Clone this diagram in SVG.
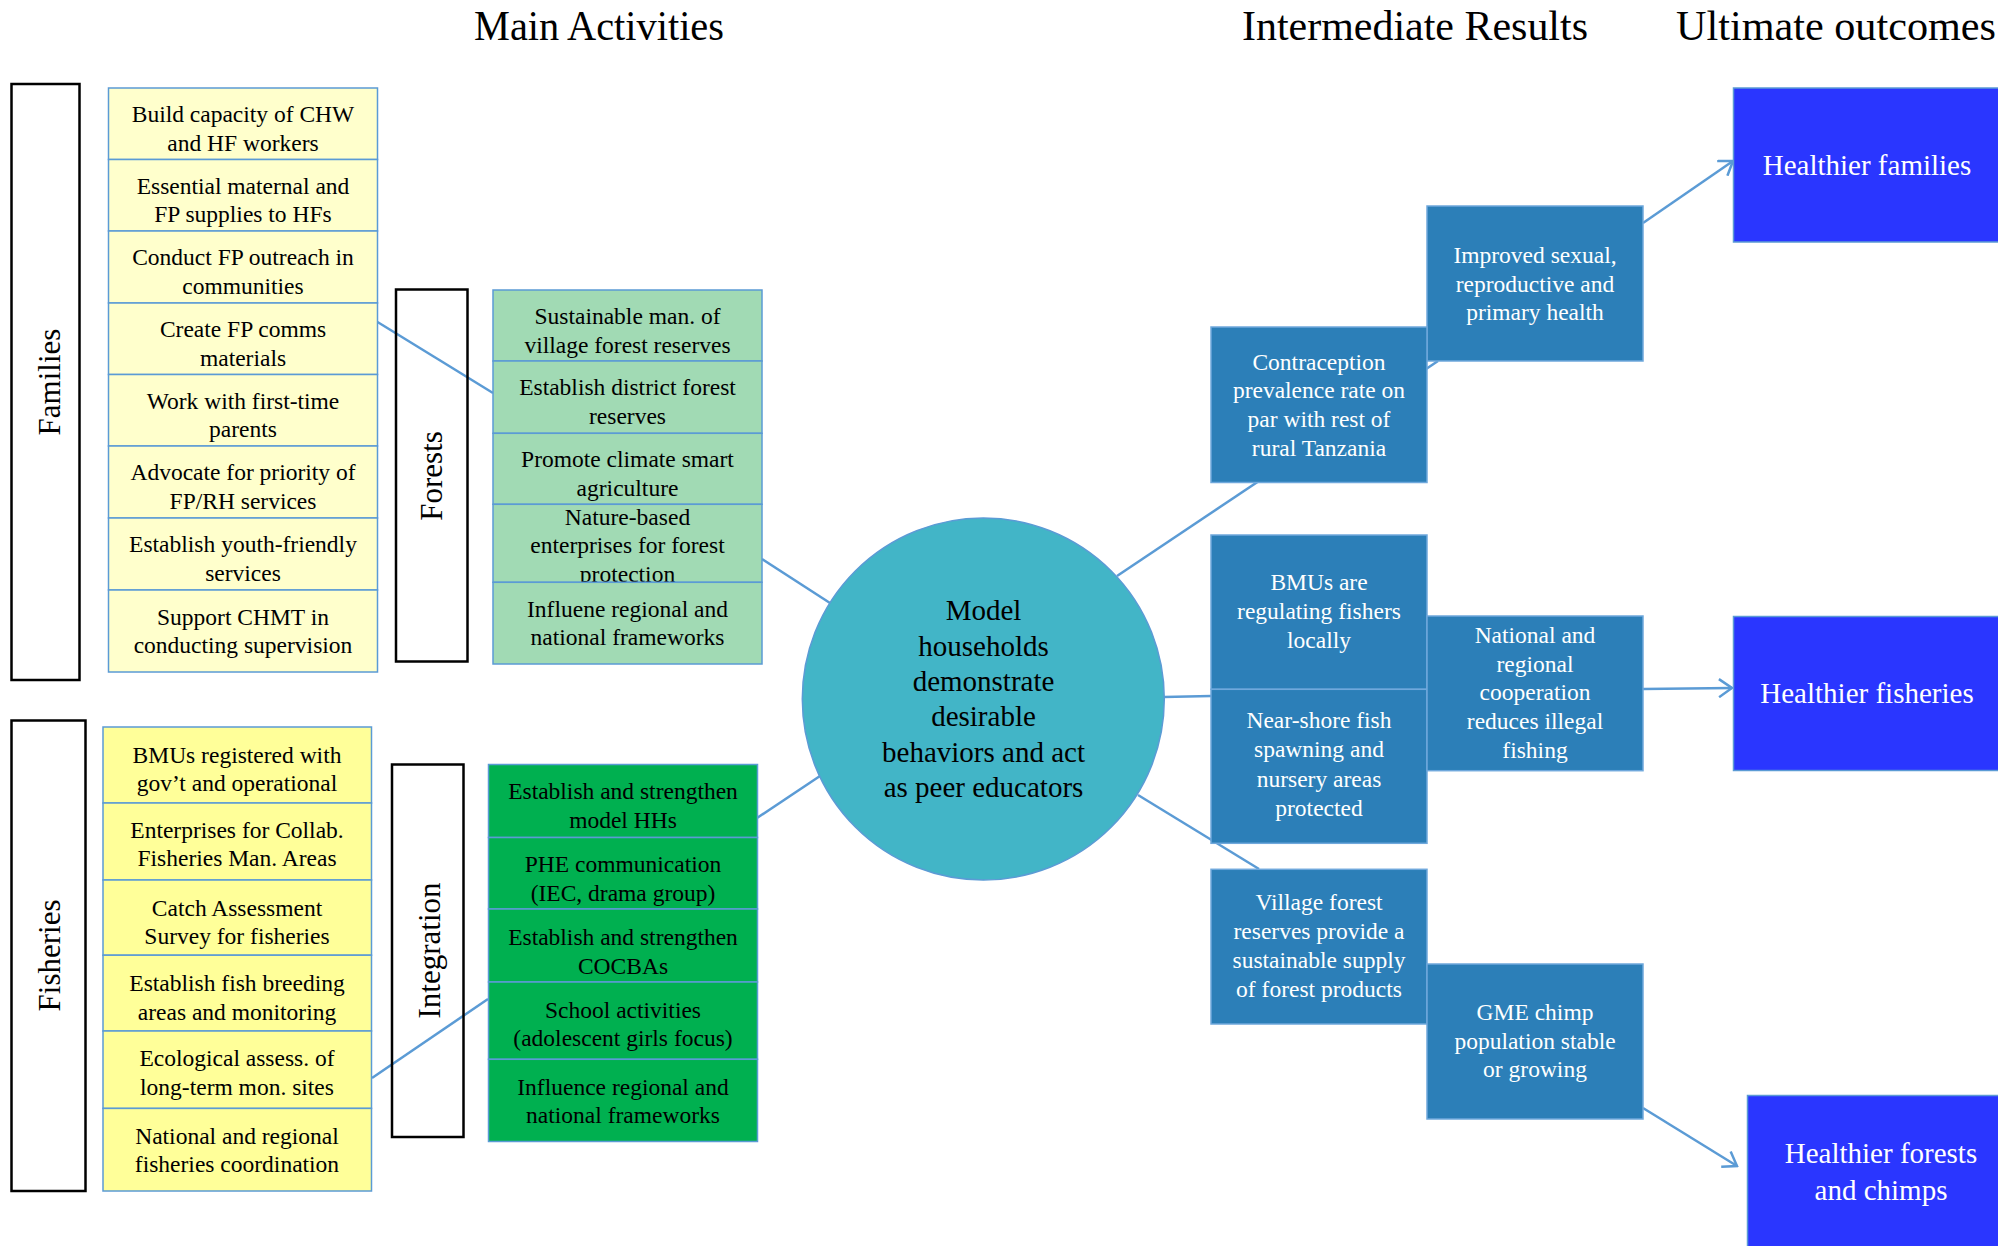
<svg xmlns="http://www.w3.org/2000/svg" width="1998" height="1246" viewBox="0 0 1998 1246" font-family="'Liberation Serif', 'DejaVu Serif', serif">
<style>
text{font-family:'Liberation Serif','DejaVu Serif',serif;text-anchor:middle}
.hd{font-size:42px;fill:#000;text-anchor:start}
.t{font-size:23.5px;fill:#000}
.w{font-size:23.5px;fill:#fff}
.big{font-size:29px;fill:#fff}
.ctr{font-size:29px;fill:#000}
.lbl{font-size:31px;fill:#000}
.lb{fill:none;stroke:#000;stroke-width:2.5}
.y1{fill:#FFFFCC;stroke:#5B9BD5;stroke-width:1.5}
.y2{fill:#FFFF99;stroke:#5B9BD5;stroke-width:1.5}
.g1{fill:#A1DAB4;stroke:#5B9BD5;stroke-width:1.5}
.g2{fill:#00B050;stroke:#5B9BD5;stroke-width:1.5}
.b1{fill:#2C7FB8;stroke:#6FA8DC;stroke-width:1.5}
.b2{fill:#2A36FF;stroke:#5B9BD5;stroke-width:1.5}
.c{fill:none;stroke:#5B9BD5;stroke-width:2.5}
</style>
<defs>
<marker id="arr" viewBox="0 0 16 20" refX="14" refY="10" markerWidth="16" markerHeight="20" markerUnits="userSpaceOnUse" orient="auto">
<path d="M1,1 L14,10 L1,19" fill="none" stroke="#5B9BD5" stroke-width="2.5"/>
</marker>
</defs>
<rect width="1998" height="1246" fill="#fff"/>

<g id="headings">
<text class="hd" x="474" y="40" textLength="250" lengthAdjust="spacingAndGlyphs">Main Activities</text>
<text class="hd" x="1242" y="40" textLength="346" lengthAdjust="spacingAndGlyphs">Intermediate Results</text>
<text class="hd" x="1676" y="40" textLength="320" lengthAdjust="spacingAndGlyphs">Ultimate outcomes</text>
</g>

<g id="connectors">
<line class="c" x1="377.5" y1="322" x2="493" y2="393"/>
<line class="c" x1="372" y1="1078" x2="488" y2="999"/>
<line class="c" x1="762" y1="559" x2="830" y2="603"/>
<line class="c" x1="757" y1="818" x2="820" y2="776"/>
<line class="c" x1="1117" y1="576" x2="1438" y2="361"/>
<line class="c" x1="1164" y1="697" x2="1211" y2="696"/>
<line class="c" x1="1138" y1="795" x2="1259" y2="869"/>
<line class="c" x1="1643" y1="223" x2="1733" y2="161" marker-end="url(#arr)"/>
<line class="c" x1="1643" y1="689" x2="1732" y2="688" marker-end="url(#arr)"/>
<line class="c" x1="1643" y1="1108" x2="1737" y2="1166" marker-end="url(#arr)"/>
</g>

<g id="families-label">
<rect class="lb" x="11.5" y="84" width="68" height="596"/>
<text class="lbl" transform="translate(60,382) rotate(-90)">Families</text>
</g>
<g id="families-activities">
<g id="fa1"><rect class="y1" x="108.5" y="88" width="269" height="71.5"/><text class="t" x="243" y="122">Build capacity of CHW</text><text class="t" x="243" y="150.7">and HF workers</text></g>
<g id="fa2"><rect class="y1" x="108.5" y="159.5" width="269" height="71.5"/><text class="t" x="243" y="193.5">Essential maternal and</text><text class="t" x="243" y="222">FP supplies to HFs</text></g>
<g id="fa3"><rect class="y1" x="108.5" y="231" width="269" height="72"/><text class="t" x="243" y="265">Conduct FP outreach in</text><text class="t" x="243" y="293.7">communities</text></g>
<g id="fa4"><rect class="y1" x="108.5" y="303" width="269" height="71.5"/><text class="t" x="243" y="337">Create FP comms</text><text class="t" x="243" y="365.5">materials</text></g>
<g id="fa5"><rect class="y1" x="108.5" y="374.5" width="269" height="71.5"/><text class="t" x="243" y="408.5">Work with first-time</text><text class="t" x="243" y="437">parents</text></g>
<g id="fa6"><rect class="y1" x="108.5" y="446" width="269" height="72"/><text class="t" x="243" y="480">Advocate for priority of</text><text class="t" x="243" y="509">FP/RH services</text></g>
<g id="fa7"><rect class="y1" x="108.5" y="518" width="269" height="72"/><text class="t" x="243" y="552">Establish youth-friendly</text><text class="t" x="243" y="580.7">services</text></g>
<g id="fa8"><rect class="y1" x="108.5" y="590" width="269" height="82"/><text class="t" x="243" y="625">Support CHMT in</text><text class="t" x="243" y="652.7">conducting supervision</text></g>
</g>

<g id="forests-label">
<rect class="lb" x="396" y="289.5" width="71.5" height="372"/>
<text class="lbl" transform="translate(442,476) rotate(-90)">Forests</text>
</g>
<g id="forests-activities">
<g id="fo1"><rect class="g1" x="493" y="290" width="269" height="71"/><text class="t" x="627.5" y="324">Sustainable man. of</text><text class="t" x="627.5" y="352.7">village forest reserves</text></g>
<g id="fo2"><rect class="g1" x="493" y="361" width="269" height="72.3"/><text class="t" x="627.5" y="395">Establish district forest</text><text class="t" x="627.5" y="423.5">reserves</text></g>
<g id="fo3"><rect class="g1" x="493" y="433.3" width="269" height="71"/><text class="t" x="627.5" y="467">Promote climate smart</text><text class="t" x="627.5" y="495.7">agriculture</text></g>
<g id="fo4"><rect class="g1" x="493" y="504.3" width="269" height="78"/><text class="t" x="627.5" y="525">Nature-based</text><text class="t" x="627.5" y="553.3">enterprises for forest</text><text class="t" x="627.5" y="581.7">protection</text></g>
<g id="fo5"><rect class="g1" x="493" y="582.3" width="269" height="81.7"/><text class="t" x="627.5" y="616.7">Influene regional and</text><text class="t" x="627.5" y="645">national frameworks</text></g>
</g>

<g id="fisheries-label">
<rect class="lb" x="11.5" y="720.5" width="74" height="470.5"/>
<text class="lbl" transform="translate(60,955.5) rotate(-90)">Fisheries</text>
</g>
<g id="fisheries-activities">
<g id="fi1"><rect class="y2" x="103" y="727" width="268.5" height="76"/><text class="t" x="237" y="762.7">BMUs registered with</text><text class="t" x="237" y="791.2">gov’t and operational</text></g>
<g id="fi2"><rect class="y2" x="103" y="803" width="268.5" height="77"/><text class="t" x="237" y="837.5">Enterprises for Collab.</text><text class="t" x="237" y="866.4">Fisheries Man. Areas</text></g>
<g id="fi3"><rect class="y2" x="103" y="880" width="268.5" height="75.2"/><text class="t" x="237" y="915.9">Catch Assessment</text><text class="t" x="237" y="944.4">Survey for fisheries</text></g>
<g id="fi4"><rect class="y2" x="103" y="955.2" width="268.5" height="75.8"/><text class="t" x="237" y="990.7">Establish fish breeding</text><text class="t" x="237" y="1019.6">areas and monitoring</text></g>
<g id="fi5"><rect class="y2" x="103" y="1031" width="268.5" height="77.4"/><text class="t" x="237" y="1066.3">Ecological assess. of</text><text class="t" x="237" y="1095.2">long-term mon. sites</text></g>
<g id="fi6"><rect class="y2" x="103" y="1108.4" width="268.5" height="82.6"/><text class="t" x="237" y="1144">National and regional</text><text class="t" x="237" y="1171.8">fisheries coordination</text></g>
</g>

<g id="integration-label">
<rect class="lb" x="392" y="764.5" width="71.5" height="372.5"/>
<text class="lbl" transform="translate(440,950.5) rotate(-90)">Integration</text>
</g>
<g id="integration-activities">
<g id="in1"><rect class="g2" x="488.5" y="764.5" width="269" height="73"/><text class="t" x="623" y="799.2">Establish and strengthen</text><text class="t" x="623" y="828">model HHs</text></g>
<g id="in2"><rect class="g2" x="488.5" y="837.5" width="269" height="71.5"/><text class="t" x="623" y="872">PHE communication</text><text class="t" x="623" y="900.5">(IEC, drama group)</text></g>
<g id="in3"><rect class="g2" x="488.5" y="909" width="269" height="73"/><text class="t" x="623" y="945">Establish and strengthen</text><text class="t" x="623" y="973.5">COCBAs</text></g>
<g id="in4"><rect class="g2" x="488.5" y="982" width="269" height="77.3"/><text class="t" x="623" y="1017.5">School activities</text><text class="t" x="623" y="1046.4">(adolescent girls focus)</text></g>
<g id="in5"><rect class="g2" x="488.5" y="1059.3" width="269" height="82.2"/><text class="t" x="623" y="1094.5">Influence regional and</text><text class="t" x="623" y="1123">national frameworks</text></g>
</g>

<g id="model-households">
<circle cx="983.3" cy="699" r="181" fill="#42B5C7" stroke="#5B9BD5" stroke-width="1.5"/>
<text class="ctr" x="983.5" y="620">Model</text>
<text class="ctr" x="983.5" y="655.7">households</text>
<text class="ctr" x="983.5" y="690.7">demonstrate</text>
<text class="ctr" x="983.5" y="725.7">desirable</text>
<text class="ctr" x="983.5" y="761.7">behaviors and act</text>
<text class="ctr" x="983.5" y="796.7">as peer educators</text>
</g>

<g id="ir-improved"><rect class="b1" x="1427" y="206" width="216" height="155"/><text class="w" x="1535" y="263.3">Improved sexual,</text><text class="w" x="1535" y="291.7">reproductive and</text><text class="w" x="1535" y="320">primary health</text></g>
<g id="ir-contraception"><rect class="b1" x="1211" y="327" width="216" height="155.5"/><text class="w" x="1319" y="370">Contraception</text><text class="w" x="1319" y="398.3">prevalence rate on</text><text class="w" x="1319" y="427.3">par with rest of</text><text class="w" x="1319" y="455.7">rural Tanzania</text></g>
<g id="ir-bmus"><rect class="b1" x="1211" y="535" width="216" height="154.3"/><text class="w" x="1319" y="590">BMUs are</text><text class="w" x="1319" y="619">regulating fishers</text><text class="w" x="1319" y="647.7">locally</text></g>
<g id="ir-nearshore"><rect class="b1" x="1211" y="689.3" width="216" height="154"/><text class="w" x="1319" y="728.3">Near-shore fish</text><text class="w" x="1319" y="757.3">spawning and</text><text class="w" x="1319" y="786.7">nursery areas</text><text class="w" x="1319" y="816">protected</text></g>
<g id="ir-national"><rect class="b1" x="1427" y="616" width="216" height="154.7"/><text class="w" x="1535" y="643.3">National and</text><text class="w" x="1535" y="671.7">regional</text><text class="w" x="1535" y="700">cooperation</text><text class="w" x="1535" y="729.3">reduces illegal</text><text class="w" x="1535" y="758.3">fishing</text></g>
<g id="ir-village"><rect class="b1" x="1211" y="869.3" width="216" height="154.7"/><text class="w" x="1319" y="910">Village forest</text><text class="w" x="1319" y="939">reserves provide a</text><text class="w" x="1319" y="968.3">sustainable supply</text><text class="w" x="1319" y="996.7">of forest products</text></g>
<g id="ir-gme"><rect class="b1" x="1427" y="964" width="216" height="155"/><text class="w" x="1535" y="1020">GME chimp</text><text class="w" x="1535" y="1049">population stable</text><text class="w" x="1535" y="1077.3">or growing</text></g>

<g id="out-families"><rect class="b2" x="1733.5" y="88" width="280" height="154"/><text class="big" x="1867" y="175">Healthier families</text></g>
<g id="out-fisheries"><rect class="b2" x="1733.5" y="616.5" width="280" height="154"/><text class="big" x="1867" y="703">Healthier fisheries</text></g>
<g id="out-forests"><rect class="b2" x="1747.5" y="1095.5" width="280" height="170"/><text class="big" x="1881" y="1163.3">Healthier forests</text><text class="big" x="1881" y="1200">and chimps</text></g>
</svg>
